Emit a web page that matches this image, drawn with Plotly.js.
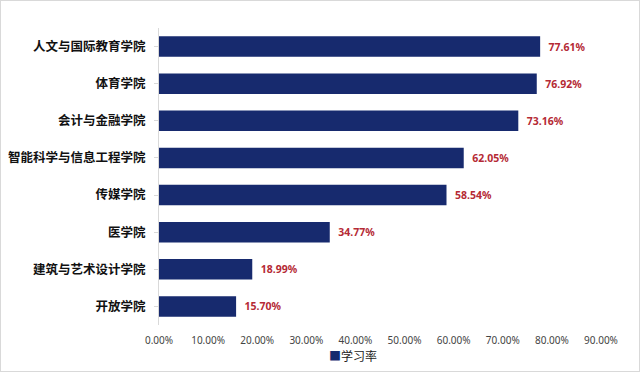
<!DOCTYPE html>
<html><head><meta charset="utf-8">
<script src="https://cdn.plot.ly/plotly-3.0.1.min.js"></script>
<style>html,body{margin:0;padding:0;background:#fff}#c{width:638px;height:370px;border:1px solid #d9d9d9}</style>
</head><body><div id="c"></div>
<script>
const categories = ["人文与国际教育学院","体育学院","会计与金融学院","智能科学与信息工程学院","传媒学院","医学院","建筑与艺术设计学院","开放学院"];
const rates = [0.7761, 0.7692, 0.7316, 0.6205, 0.5854, 0.3477, 0.1899, 0.1570];
const tickVals = [0,0.1,0.2,0.3,0.4,0.5,0.6,0.7,0.8,0.9];
const seriesName = "学习率";
const barColor = '#172a6e';

Plotly.newPlot('c', [{
  type:'bar', orientation:'h', name:seriesName,
  y:categories, x:rates,
  marker:{color:barColor, line:{width:0}},
  texttemplate:'\u00a0\u00a0%{x:.2%}', textposition:'outside', cliponaxis:false,
  textfont:{family:'Noto Sans, sans-serif', size:10.5, color:'#b52a35', weight:'bold'},
  hoverinfo:'none'
}], {
  width:638, height:370,
  margin:{l:158, r:38, t:27, b:46, autoexpand:false},
  paper_bgcolor:'#fff', plot_bgcolor:'#fff',
  bargap:0.45,
  font:{family:'Noto Sans CJK SC, Noto Sans, sans-serif'},
  xaxis:{range:[0,0.9], tickvals:tickVals, tickformat:'.2%', showgrid:false, zeroline:false,
    showline:false, tickfont:{size:10, color:'#444', family:'Noto Sans, sans-serif'}, ticks:'', ticklabelstandoff:8, fixedrange:true},
  yaxis:{autorange:'reversed', showline:true, linecolor:'#d9d9d9', linewidth:1, ticks:'outside', ticklen:4, tickcolor:'#d9d9d9',
    tickfont:{size:12.5, color:'#111', family:'Noto Sans CJK SC, sans-serif', weight:'bold'}, ticklabelstandoff:6, showgrid:false},
  showlegend:false,
  annotations:[{xref:'paper', yref:'paper', x:0.44, y:-0.104, xanchor:'center', yanchor:'middle', showarrow:false,
    text:'<span style="color:'+barColor+'">■</span>'+seriesName, font:{size:12, color:'#222'}}]
}, {staticPlot:true});
</script></body></html>
